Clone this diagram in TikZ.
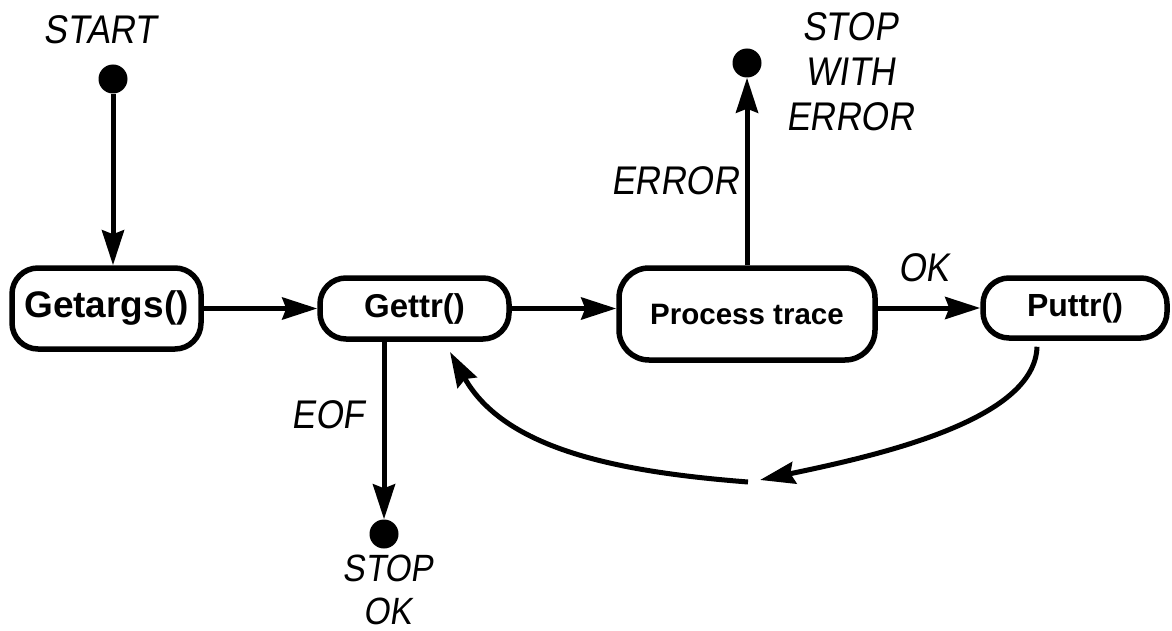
\documentclass[tikz,border=0pt]{standalone}
\usepackage{fontspec}
\setmainfont{Liberation Sans}
\newfontfamily\handfont[FakeSlant=0.15,FakeStretch=0.88]{Liberation Sans}
\usetikzlibrary{arrows.meta,calc}

\begin{document}
\begin{tikzpicture}[x=1pt,y=-1pt,
  state/.style={draw, line width=5.5pt, rounded corners=26pt, inner sep=0pt},
  dot/.style={circle, fill=black, minimum size=29pt, inner sep=0pt},
  hand/.style={inner sep=0pt, align=center},
  handtext/.style={font=\handfont\fontsize{40}{45}\selectfont},
  flow/.style={line width=5pt, -{Stealth[length=35pt,width=22pt,inset=4pt]}},
]
% canvas
\fill[white] (0,0) rectangle (1172,631);
\useasboundingbox (0,0) rectangle (1172,631);

% states
\node[state, minimum width=189pt, minimum height=81pt,
      font=\bfseries\fontsize{37}{40}\selectfont] (getargs) at (106.5,308.5) {Getargs()};
\node[state, minimum width=189pt, minimum height=61pt,
      font=\bfseries\fontsize{33}{38}\selectfont] (gettr) at (414.5,308.5) {Gettr()};
\node[state, minimum width=256pt, minimum height=92pt, rounded corners=30pt,
      font=\bfseries\fontsize{29.5}{34}\selectfont] (process) at (747,314) {Process trace};
\node[state, minimum width=184pt, minimum height=60pt,
      font=\bfseries\fontsize{32}{36}\selectfont] (puttr) at (1075,308) {Puttr()};

% initial and final pseudo-states
\node[dot] (startdot) at (113,79) {};
\node[dot] (errdot) at (747,63) {};
\node[dot] (eofdot) at (384,534) {};

% labels
\node[hand, handtext] (lstart) at (100,30) {START};
\node[hand, handtext] (lerror) at (675,181) {ERROR};
\node[hand, handtext] (lstoperr) at (850,72) {STOP\\WITH\\ERROR};
\node[hand, handtext] (lok) at (924,268) {OK};
\node[hand, handtext] (leof) at (328,415) {EOF};
\node[hand, font=\handfont\fontsize{38}{43}\selectfont] (lstopok) at (388,590) {STOP\\OK};

% loop-back waypoints
\coordinate (loopmid) at (760,480);
\coordinate (loopback) at (748,482);
\coordinate (gettrin) at (450,352);

% transitions
\draw[flow] (startdot) -- (startdot |- getargs.north);
\draw[flow] (getargs) -- (gettr);
\draw[flow] (gettr.east) -- (gettr.east -| process.west);
\draw[flow] (process.east |- puttr.west) -- (puttr.west);
\draw[flow] (process.north -| errdot) -- (errdot);
\draw[flow] (gettr.south -| eofdot) -- (eofdot);
\draw[flow] ($(puttr.south)+(-38,6)$) .. controls (1035,420) and (880,455) .. (loopmid);
\draw[flow] (loopback) .. controls (620,472) and (505,450) .. (gettrin);
\end{tikzpicture}
\end{document}
